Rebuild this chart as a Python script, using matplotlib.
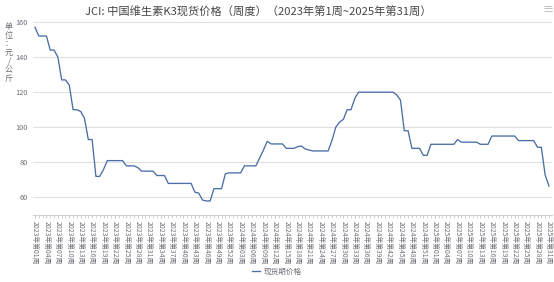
import matplotlib
matplotlib.use("Agg")
import matplotlib.pyplot as plt
import numpy as np

plt.rcParams['font.family'] = ['Noto Sans CJK SC', 'DejaVu Sans']

# Data: weekly spot price, 2023 wk1 .. 2025 wk31 (yuan/kg)
year_weeks = [(2023, 52), (2024, 53), (2025, 31)]
categories = [f"{y}年第{w:02d}周" for y, n in year_weeks for w in range(1, n + 1)]

prices_2023 = [157, 152, 152, 152, 144, 144, 140, 127, 127, 124,
               110, 110, 109, 105, 93, 93, 72, 72, 76, 81,
               81, 81, 81, 81, 78, 78, 78, 77, 75, 75,
               75, 75, 72.5, 72.5, 72.5, 68, 68, 68, 68, 68,
               68, 68, 63, 62.5, 58.5, 58, 58, 65, 65, 65,
               73.5, 74]
prices_2024 = [74, 74, 74, 78, 78, 78, 78, 82.5, 87, 92,
               90.5, 90.5, 90.5, 90.5, 88, 88, 88, 89, 89.3, 87.6,
               87, 86.5, 86.5, 86.5, 86.5, 86.5, 92.5, 100, 103, 104.5,
               110, 110, 116.5, 120, 120, 120, 120, 120, 120, 120,
               120, 120, 120, 118.5, 115.5, 98, 98, 88, 88, 88,
               84, 84, 90.3]
prices_2025 = [90.3, 90.3, 90.3, 90.3, 90.3, 90.3, 93, 91.5, 91.5, 91.5,
               91.5, 91.5, 90.3, 90.3, 90.3, 95, 95, 95, 95, 95,
               95, 95, 92.4, 92.4, 92.4, 92.4, 92.4, 88.6, 88.6, 72.8,
               66.5]
prices = prices_2023 + prices_2024 + prices_2025

title = "JCI: 中国维生素K3现货价格（周度）（2023年第1周~2025年第31周）"
y_label = "单位：元/公斤"
series_name = "现货期价格"
y_ticks = [60, 80, 100, 120, 140, 160]

fig = plt.figure(figsize=(5.54, 2.82), dpi=100)
ax = fig.add_axes([33 / 554, 1 - 215 / 282, 519 / 554, 193 / 282])

x = np.arange(len(prices))
line, = ax.plot(x, prices, color="#4a6ea5", lw=0.95, label=series_name)

ax.set_xlim(-0.53, len(prices) - 1 + 0.8)
ax.set_ylim(50, 160)
ax.set_yticks(y_ticks)
ax.set_yticklabels([str(v) for v in y_ticks], fontsize=5.3, color="#6e7079")
ax.tick_params(axis="y", length=0, pad=4)
ax.grid(axis="y", color="#e0e0e0", lw=0.8)
ax.set_axisbelow(True)

ax.set_xticks(x[::3])
ax.set_xticklabels(categories[::3], rotation=-90, fontsize=4.9, color="#6e7079",
                   va="top", ha="center")
ax.set_xticks(x, minor=True)
ax.tick_params(axis="x", which="both", length=2.5, color="#d0d0d0", pad=2)

for s in ["top", "right", "left"]:
    ax.spines[s].set_visible(False)
ax.spines["bottom"].set_color("#d0d0d0")
ax.spines["bottom"].set_linewidth(0.8)

fig.text(258 / 554, 1 - 12 / 282, title, ha="center", va="center", fontsize=8.1, color="#464646")
fig.text(9 / 554, 1 - 22 / 282, "\n".join(y_label), ha="center", va="top",
         fontsize=5.8, color="#6e7079", linespacing=0.95)
fig.text(548 / 554, 1 - 10 / 282, "≡", ha="center", va="center", fontsize=8, color="#b0b0b0")

fig.legend(handles=[line], loc="center", bbox_to_anchor=(277 / 554, 1 - 272 / 282),
           frameon=False, fontsize=5.5, handlelength=1.0, handletextpad=0.5,
           labelcolor="#6e7079")

fig.savefig("out.png", dpi=100)
